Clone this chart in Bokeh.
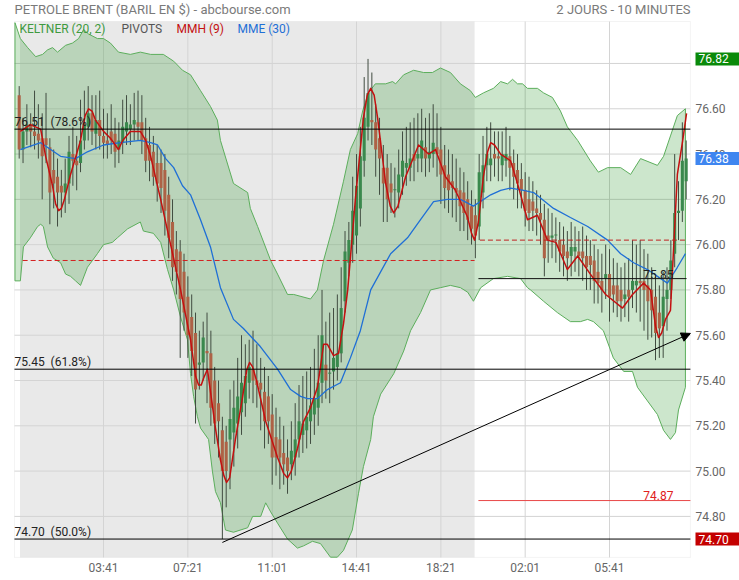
from bokeh.plotting import figure
from bokeh.models import (Range1d, FixedTicker, Label, Arrow, NormalHead, ColumnDataSource,
                          NumeralTickFormatter, BoxAnnotation, LinearAxis)
from bokeh.embed import file_html
from bokeh.resources import INLINE

# ---------------- data (10-minute candles, index based x axis) ----------------
opens = [76.66, 76.42, 76.50, 76.53, 76.50, 76.49, 76.47, 76.47, 76.43, 76.33,
         76.30, 76.26, 76.23, 76.27, 76.40, 76.37, 76.36, 76.46, 76.52, 76.58,
         76.49, 76.55, 76.48, 76.46, 76.50, 76.49, 76.42, 76.45, 76.50, 76.51,
         76.53, 76.54, 76.54, 76.47, 76.44, 76.41, 76.36, 76.36, 76.33, 76.22,
         76.10, 75.98, 75.97, 75.88, 75.77, 75.68, 75.61, 75.47, 75.48, 75.53,
         75.52, 75.40, 75.30, 75.18, 75.13, 75.14, 75.17, 75.21, 75.26, 75.30,
         75.39, 75.45, 75.40, 75.39, 75.35, 75.33, 75.25, 75.15, 75.14, 75.08,
         75.06, 75.03, 75.06, 75.14, 75.16, 75.18, 75.22, 75.25, 75.28, 75.39,
         75.47, 75.43, 75.44, 75.46, 75.52, 75.75, 75.92, 76.00, 76.04, 76.16,
         76.37, 76.52, 76.55, 76.54, 76.47, 76.34, 76.34, 76.27, 76.24, 76.23,
         76.30, 76.34, 76.34, 76.40, 76.38, 76.38, 76.43, 76.38, 76.40, 76.43,
         76.42, 76.35, 76.31, 76.28, 76.25, 76.24, 76.23, 76.20, 76.17, 76.13,
         76.08, 76.23, 76.35, 76.35, 76.40, 76.39, 76.35, 76.37, 76.39, 76.36,
         76.33, 76.29, 76.24, 76.20, 76.19, 76.16, 76.14, 76.11, 76.04, 76.03,
         76.04, 76.02, 76.00, 75.97, 75.95, 75.97, 75.97, 75.97, 75.95, 75.95,
         75.93, 75.88, 75.84, 75.85, 75.87, 75.82, 75.82, 75.80, 75.76, 75.80,
         75.80, 75.82, 75.84, 75.84, 75.82, 75.80, 75.77, 75.70, 75.64, 75.76,
         75.80, 75.96, 76.14, 76.15, 76.28]
highs = [76.70, 76.56, 76.62, 76.58, 76.68, 76.62, 76.58, 76.67, 76.47, 76.42,
         76.38, 76.33, 76.38, 76.48, 76.52, 76.48, 76.64, 76.68, 76.70, 76.66,
         76.66, 76.68, 76.60, 76.58, 76.62, 76.56, 76.54, 76.64, 76.66, 76.62,
         76.67, 76.68, 76.66, 76.56, 76.52, 76.48, 76.44, 76.42, 76.40, 76.30,
         76.20, 76.06, 76.02, 75.96, 75.86, 75.78, 75.70, 75.62, 75.66, 75.70,
         75.62, 75.46, 75.40, 75.24, 75.20, 75.36, 75.40, 75.50, 75.60, 75.56,
         75.58, 75.62, 75.56, 75.50, 75.46, 75.42, 75.34, 75.28, 75.24, 75.20,
         75.14, 75.22, 75.30, 75.38, 75.42, 75.44, 75.46, 75.54, 75.60, 75.80,
         75.66, 75.70, 75.72, 75.78, 75.90, 76.06, 76.10, 76.30, 76.40, 76.52,
         76.74, 76.82, 76.76, 76.62, 76.56, 76.44, 76.40, 76.36, 76.34, 76.42,
         76.50, 76.52, 76.54, 76.56, 76.58, 76.60, 76.56, 76.58, 76.62, 76.58,
         76.52, 76.44, 76.42, 76.40, 76.38, 76.34, 76.32, 76.28, 76.24, 76.20,
         76.40, 76.48, 76.52, 76.54, 76.50, 76.50, 76.50, 76.52, 76.48, 76.42,
         76.40, 76.36, 76.32, 76.30, 76.28, 76.24, 76.22, 76.18, 76.16, 76.14,
         76.12, 76.10, 76.08, 76.06, 76.10, 76.08, 76.06, 76.08, 76.04, 76.02,
         76.00, 75.98, 75.96, 76.00, 75.98, 75.94, 75.92, 75.90, 75.92, 75.94,
         76.02, 76.00, 76.02, 75.98, 75.96, 75.90, 75.86, 75.82, 75.88, 75.90,
         76.02, 76.40, 76.28, 76.54, 76.46]
lows = [76.38, 76.36, 76.44, 76.43, 76.42, 76.38, 76.20, 76.36, 76.09, 76.16,
        76.08, 76.12, 76.14, 76.18, 76.26, 76.24, 76.32, 76.42, 76.46, 76.44,
        76.42, 76.42, 76.38, 76.38, 76.40, 76.34, 76.36, 76.40, 76.44, 76.44,
        76.46, 76.46, 76.40, 76.32, 76.28, 76.26, 76.19, 76.14, 76.04, 75.94,
        75.84, 75.78, 75.50, 75.62, 75.50, 75.42, 75.21, 75.36, 75.40, 75.30,
        75.20, 75.12, 75.06, 74.70, 74.84, 74.92, 75.02, 75.10, 75.16, 75.24,
        75.32, 75.30, 75.28, 75.18, 75.10, 75.12, 74.94, 74.98, 74.92, 74.94,
        74.90, 74.96, 74.98, 75.06, 75.08, 75.10, 75.12, 75.16, 75.20, 75.30,
        75.32, 75.30, 75.36, 75.40, 75.48, 75.70, 75.86, 75.92, 75.96, 76.08,
        76.30, 76.46, 76.44, 76.30, 76.22, 76.10, 76.10, 76.14, 76.12, 76.16,
        76.22, 76.26, 76.28, 76.28, 76.32, 76.32, 76.30, 76.32, 76.34, 76.30,
        76.18, 76.16, 76.14, 76.12, 76.10, 76.06, 76.06, 76.02, 76.00, 75.94,
        76.02, 76.16, 76.28, 76.28, 76.30, 76.28, 76.28, 76.30, 76.24, 76.20,
        76.16, 76.16, 76.08, 76.06, 76.06, 76.04, 76.00, 75.86, 75.92, 75.94,
        75.92, 75.88, 75.86, 75.84, 75.86, 75.88, 75.86, 75.84, 75.80, 75.80,
        75.74, 75.74, 75.70, 75.76, 75.66, 75.70, 75.68, 75.66, 75.68, 75.66,
        75.72, 75.70, 75.66, 75.62, 75.58, 75.59, 75.49, 75.50, 75.50, 75.62,
        75.76, 75.90, 76.02, 76.10, 76.20]
closes = [76.42, 76.50, 76.53, 76.50, 76.48, 76.46, 76.39, 76.44, 76.23, 76.27,
          76.23, 76.23, 76.27, 76.41, 76.37, 76.35, 76.46, 76.53, 76.58, 76.50,
          76.55, 76.48, 76.45, 76.44, 76.46, 76.41, 76.46, 76.52, 76.54, 76.53,
          76.55, 76.52, 76.46, 76.37, 76.37, 76.30, 76.27, 76.25, 76.15, 76.03,
          75.90, 75.88, 75.76, 75.70, 75.60, 75.53, 75.36, 75.48, 75.59, 75.52,
          75.28, 75.21, 75.22, 75.00, 75.00, 75.23, 75.28, 75.33, 75.39, 75.42,
          75.46, 75.40, 75.38, 75.36, 75.22, 75.22, 75.06, 75.06, 75.06, 75.03,
          75.00, 75.09, 75.14, 75.22, 75.21, 75.24, 75.29, 75.32, 75.39, 75.60,
          75.40, 75.43, 75.50, 75.52, 75.72, 75.97, 76.02, 76.15, 76.26, 76.39,
          76.56, 76.67, 76.54, 76.42, 76.38, 76.27, 76.20, 76.23, 76.24, 76.31,
          76.37, 76.36, 76.38, 76.37, 76.40, 76.46, 76.38, 76.41, 76.45, 76.40,
          76.31, 76.25, 76.24, 76.25, 76.23, 76.17, 76.14, 76.11, 76.07, 76.04,
          76.32, 76.35, 76.40, 76.38, 76.38, 76.38, 76.40, 76.40, 76.34, 76.30,
          76.27, 76.24, 76.15, 76.14, 76.15, 76.14, 76.11, 75.94, 76.02, 76.04,
          76.04, 75.97, 75.95, 75.94, 75.99, 75.99, 75.95, 75.94, 75.90, 75.91,
          75.84, 75.83, 75.80, 75.87, 75.77, 75.78, 75.75, 75.75, 75.78, 75.77,
          75.84, 75.84, 75.83, 75.80, 75.75, 75.71, 75.61, 75.63, 75.77, 75.80,
          75.93, 76.14, 76.15, 76.37, 76.38]

# Keltner (20, 2) bands, read at candle positions
kelt_up_x = [-1.1, 0.3, 2.2, 4.3, 6.1, 7.4, 8.7, 10.0, 12.1, 13.9, 15.5, 16.8, 18.1, 20.4, 22.0,
             23.8, 25.9, 29.0, 31.6, 34.3, 37.6, 40.3, 42.6, 44.7, 47.3, 49.9, 51.7, 52.5, 55.9,
             59.6, 60.3, 62.2, 65.6, 67.4, 70.0, 71.6, 76.0, 77.8, 79.4, 82.0, 84.6, 86.4, 88.3,
             89.6, 91.1, 92.9, 95.6, 97.4, 98.2, 100.3, 102.9, 105.5, 107.8, 109.9, 112.5, 115.1,
             117.7, 119.0, 121.1, 123.7, 125.6, 127.4, 128.7, 130.0, 131.3, 132.6, 135.2, 136.8,
             139.1, 141.2, 143.0, 145.7, 149.0, 151.1, 153.5, 156.9, 159.5, 162.1, 166.5, 168.1,
             169.9, 171.7, 173.8]
kelt_up_y = [76.98, 76.91, 76.87, 76.83, 76.84, 76.86, 76.87, 76.85, 76.88, 76.89, 76.91, 76.95,
             76.93, 76.91, 76.91, 76.89, 76.85, 76.84, 76.85, 76.84, 76.84, 76.81, 76.77, 76.75,
             76.68, 76.61, 76.55, 76.46, 76.27, 76.23, 76.16, 76.08, 75.93, 75.87, 75.78, 75.78,
             75.76, 75.80, 75.93, 76.09, 76.28, 76.42, 76.49, 76.59, 76.67, 76.71, 76.71, 76.72,
             76.71, 76.75, 76.77, 76.76, 76.76, 76.78, 76.76, 76.71, 76.68, 76.65, 76.67, 76.69,
             76.72, 76.71, 76.73, 76.71, 76.71, 76.69, 76.69, 76.67, 76.65, 76.59, 76.52, 76.46,
             76.37, 76.32, 76.34, 76.34, 76.31, 76.38, 76.35, 76.39, 76.48, 76.57, 76.60]
kelt_lo_x = [-1.1, 0.3, 1.1, 2.9, 4.8, 5.6, 6.3, 7.4, 8.9, 10.8, 12.1, 13.4, 14.7, 16.0, 17.8,
             20.4, 22.0, 24.3, 25.6, 28.3, 31.6, 32.4, 35.0, 36.9, 38.7, 40.3, 42.1, 43.9, 44.7,
             45.5, 46.5, 47.3, 49.4, 50.4, 51.2, 52.5, 53.8, 55.9, 59.6, 60.9, 63.0, 64.3, 65.6,
             67.4, 70.0, 72.6, 74.2, 76.5, 78.6, 81.2, 83.0, 84.6, 86.9, 88.5, 89.8, 91.7, 92.4,
             94.3, 97.7, 100.3, 102.1, 104.7, 107.3, 109.9, 112.5, 115.1, 117.0, 118.5, 120.4,
             123.7, 127.4, 130.8, 132.6, 133.4, 136.8, 140.4, 143.8, 146.4, 148.3, 149.8, 152.4,
             155.0, 157.7, 160.0, 161.3, 163.9, 166.5, 168.1, 169.9, 171.2, 172.0, 173.8]
kelt_lo_y = [75.84, 75.84, 75.99, 76.03, 76.08, 76.09, 76.08, 75.99, 75.94, 75.92, 75.87, 75.86,
             75.84, 75.82, 75.90, 75.96, 76.00, 76.01, 76.03, 76.07, 76.10, 76.06, 76.05, 76.01,
             75.89, 75.80, 75.68, 75.58, 75.43, 75.33, 75.24, 75.19, 75.14, 75.00, 74.91, 74.86,
             74.74, 74.73, 74.75, 74.80, 74.80, 74.86, 74.82, 74.77, 74.70, 74.66, 74.67, 74.69,
             74.68, 74.62, 74.62, 74.65, 74.74, 74.90, 75.02, 75.14, 75.24, 75.34, 75.43, 75.53,
             75.62, 75.70, 75.80, 75.81, 75.82, 75.81, 75.79, 75.75, 75.81, 75.85, 75.86, 75.85,
             75.81, 75.80, 75.75, 75.70, 75.66, 75.66, 75.67, 75.66, 75.62, 75.50, 75.44, 75.44,
             75.37, 75.31, 75.25, 75.18, 75.14, 75.17, 75.27, 75.37]

# MMH (9) - Hull moving average
mmh_x = [0.3, 2.9, 5.6, 6.9, 8.7, 9.5, 10.3, 11.0, 11.8, 13.4, 16.0, 17.2, 18.1, 19.0, 19.9,
         22.0, 23.8, 25.9, 27.0, 29.0, 31.6, 33.0, 34.3, 36.9, 39.5, 42.1, 44.7, 46.0, 46.8,
         47.5, 48.1, 49.1, 51.2, 52.5, 53.4, 54.1, 54.9, 56.4, 58.3, 59.4, 60.1, 60.9, 61.9,
         64.3, 67.4, 69.0, 70.0, 71.0, 72.6, 74.2, 76.0, 77.8, 78.6, 79.4, 80.4, 82.0, 83.3,
         84.6, 85.7, 87.7, 89.8, 90.8, 91.7, 92.6, 93.5, 95.6, 96.8, 97.7, 98.8, 100.8, 104.2,
         106.8, 108.6, 111.2, 113.8, 117.0, 118.0, 118.8, 119.8, 121.1, 122.2, 123.0, 124.0,
         125.6, 128.2, 130.0, 132.6, 135.2, 137.8, 140.0, 143.0, 145.7, 149.0, 153.0, 157.4,
         160.0, 162.9, 164.7, 166.0, 166.8, 167.6, 168.6, 169.9, 171.7, 173.1, 174.1]
mmh_y = [76.50, 76.53, 76.51, 76.39, 76.26, 76.18, 76.15, 76.16, 76.20, 76.31, 76.46, 76.57,
         76.60, 76.59, 76.55, 76.50, 76.47, 76.42, 76.46, 76.50, 76.50, 76.46, 76.39, 76.20,
         76.00, 75.80, 75.58, 75.42, 75.38, 75.38, 75.41, 75.45, 75.19, 75.05, 74.98, 74.95,
         74.97, 75.14, 75.33, 75.45, 75.48, 75.46, 75.40, 75.22, 75.06, 74.99, 74.97, 75.00,
         75.10, 75.22, 75.28, 75.37, 75.46, 75.56, 75.56, 75.51, 75.52, 75.65, 75.80, 76.20,
         76.56, 76.66, 76.69, 76.66, 76.56, 76.27, 76.17, 76.14, 76.17, 76.30, 76.44, 76.40,
         76.42, 76.30, 76.24, 76.12, 76.05, 76.02, 76.10, 76.30, 76.41, 76.45, 76.44, 76.40,
         76.37, 76.27, 76.11, 76.13, 76.02, 76.01, 75.89, 75.95, 75.87, 75.78, 75.72, 75.78,
         75.83, 75.80, 75.64, 75.59, 75.61, 75.67, 75.71, 76.31, 76.46, 76.58]

# MME (30) - exponential moving average
mme_x = [0.3, 5.6, 8.2, 10.8, 14.7, 17.8, 22.0, 26.4, 31.6, 34.3, 36.1, 38.2, 40.3, 42.6, 44.7,
         47.3, 49.9, 52.5, 55.9, 58.5, 62.9, 67.4, 70.8, 73.4, 75.2, 77.8, 80.4, 83.8, 86.4, 89.0,
         91.7, 96.9, 101.3, 104.7, 108.1, 111.7, 115.1, 118.5, 123.0, 125.6, 128.2, 131.6, 134.2,
         139.4, 143.8, 148.3, 153.5, 156.9, 160.3, 163.9, 169.1, 171.7, 173.8]
mme_y = [76.42, 76.45, 76.42, 76.39, 76.38, 76.41, 76.44, 76.45, 76.46, 76.45, 76.44, 76.38,
         76.34, 76.26, 76.22, 76.11, 75.99, 75.81, 75.67, 75.63, 75.55, 75.45, 75.36, 75.33,
         75.32, 75.32, 75.36, 75.39, 75.50, 75.62, 75.80, 75.96, 76.03, 76.11, 76.19, 76.20,
         76.20, 76.17, 76.22, 76.24, 76.25, 76.24, 76.23, 76.16, 76.12, 76.08, 76.02, 75.96,
         75.92, 75.89, 75.83, 75.90, 75.96]

# Fibonacci pivots
pivot_levels = [76.51, 75.45, 74.70]
pivot_labels = ["76.51\u00a0 (78.6%)", "75.45\u00a0 (61.8%)", "74.70\u00a0 (50.0%)"]
prev_pivot = 75.93          # previous session pivot (dashed)
day_pivot = 76.02           # current session pivot (dashed)
day_support = 75.85
day_low_level = 74.87
# trend line (from the 74.70 low)
trend_x = [53.0, 175.1]
trend_y = [74.685, 75.608]
# right-hand value tags
tag_values = [76.82, 76.38, 74.70]
tag_colors = ["#0a8a0a", "#3f86f0", "#c40000"]

tick_idx = [22, 44, 66, 88, 110, 132, 154]
tick_labels = ["03:41", "07:21", "11:01", "14:41", "18:21", "02:01", "05:41"]
price_ticks = [74.8, 75.0, 75.2, 75.4, 75.6, 75.8, 76.0, 76.2, 76.4, 76.6]
grid_prices = [74.8, 75.0, 75.2, 75.4, 75.6, 75.8, 76.0, 76.2, 76.4, 76.6, 76.8]
session_split = 118.8

# ---------------- figure ----------------
FONT = "Roboto"
# plot box (candle index / price) inside the canvas-wide frame
PX0, PX1 = -1.23, 175.1
PY0, PY1 = 74.619, 76.985

p = figure(width=739, height=580, output_backend="svg", toolbar_location=None,
           x_range=Range1d(-4.878, 187.91), y_range=Range1d(74.517, 77.078),
           x_axis_location=None, y_axis_location=None, title=None, min_border=0)
p.outline_line_color = None
p.background_fill_color = "white"
p.border_fill_color = "white"
p.grid.visible = False

# axes drawn at the edges of the plot box
xa = LinearAxis(fixed_location=PY0, ticker=FixedTicker(ticks=tick_idx))
xa.major_label_overrides = {t: l for t, l in zip(tick_idx, tick_labels)}
xa.major_label_standoff = 4
ya = LinearAxis(fixed_location=PX1, ticker=FixedTicker(ticks=price_ticks),
                formatter=NumeralTickFormatter(format="0.00"))
ya.major_label_standoff = 5
for ax in (xa, ya):
    ax.axis_line_color = None
    ax.major_tick_line_color = None
    ax.minor_tick_line_color = None
    ax.major_tick_out = 0
    ax.major_tick_in = 0
    ax.major_label_text_font = FONT
    ax.major_label_text_font_size = "12px"
    ax.major_label_text_color = "#666666"
p.add_layout(xa, "below")
p.add_layout(ya, "right")

# previous session shading
p.add_layout(BoxAnnotation(left=0.2, right=session_split, bottom=PY0, top=PY1,
                           fill_color="#e9e9e9", fill_alpha=1.0, line_color=None, level="image"))

# grid lines limited to the plot box
p.segment(x0=tick_idx, y0=[PY0] * len(tick_idx), x1=tick_idx, y1=[PY1] * len(tick_idx),
          line_color="#d4d4d4", line_width=1)
p.segment(x0=[PX0] * len(grid_prices), y0=grid_prices, x1=[PX1] * len(grid_prices), y1=grid_prices,
          line_color="#d4d4d4", line_width=1)

# Keltner band
p.patch(kelt_up_x + kelt_lo_x[::-1], kelt_up_y + kelt_lo_y[::-1],
        fill_color="#008000", fill_alpha=0.2, line_color="#5cae5c", line_width=1)

# candles
idx = list(range(len(closes)))
tops, bots, cols = [], [], []
for o, c in zip(opens, closes):
    t, b = max(o, c), min(o, c)
    if t - b < 0.005:
        t = b + 0.005
    tops.append(t)
    bots.append(b)
    cols.append("#3a894d" if c >= o else "#ad6246")
src = ColumnDataSource(dict(x=idx, h=highs, l=lows, t=tops, b=bots, c=cols))
p.segment(x0="x", y0="l", x1="x", y1="h", source=src, line_color="#404c40", line_width=1)
p.vbar(x="x", width=0.8, top="t", bottom="b", fill_color="c", line_color=None, source=src)

# moving averages
p.line(mme_x, mme_y, line_color="#1f6fd6", line_width=1.3)
p.line(mmh_x, mmh_y, line_color="#c41010", line_width=1.5, line_join="round")

# session levels
p.segment(x0=[0.9], y0=[prev_pivot], x1=[session_split], y1=[prev_pivot],
          line_color="#d42020", line_width=1, line_dash="5 3")
p.segment(x0=[120.2], y0=[day_pivot], x1=[174.0], y1=[day_pivot],
          line_color="#c02020", line_width=1, line_dash="5 3")
p.segment(x0=[119.8], y0=[day_support], x1=[174.1], y1=[day_support],
          line_color="#111111", line_width=1)
p.segment(x0=[119.8], y0=[day_low_level], x1=[PX1], y1=[day_low_level],
          line_color="#e84848", line_width=1)

# Fibonacci pivot lines
p.segment(x0=[PX0] * 3, y0=pivot_levels, x1=[PX1] * 3, y1=pivot_levels,
          line_color="#000000", line_width=1)
for lv, lab in zip(pivot_levels, pivot_labels):
    p.add_layout(Label(x=14, y=lv, x_units="screen", text=lab, text_font=FONT,
                       text_font_size="12px", text_color="#222222",
                       text_baseline="bottom", text_align="left"))

p.add_layout(Label(x=673, y=day_support, x_units="screen", text=f"{day_support:.2f}",
                   text_font=FONT, text_font_size="12px", text_color="#222222",
                   text_baseline="bottom", text_align="right"))
p.add_layout(Label(x=673, y=day_low_level, x_units="screen", text=f"{day_low_level:.2f}",
                   text_font=FONT, text_font_size="12px", text_color="#e02020",
                   text_baseline="bottom", text_align="right", y_offset=1))

# trend arrow
p.add_layout(Arrow(end=NormalHead(size=9, fill_color="black", line_color="black"),
                   x_start=trend_x[0], y_start=trend_y[0], x_end=trend_x[1], y_end=trend_y[1],
                   line_color="black", line_width=1))

# plot box outline
p.add_layout(BoxAnnotation(left=PX0, right=PX1, bottom=PY0, top=PY1, fill_alpha=0,
                           line_color="#d6d6d6", line_width=1, level="underlay"))

# right value tags
for v, col in zip(tag_values, tag_colors):
    p.add_layout(Label(x=695, y=v, x_units="screen", text=f"{v:.2f}", text_font=FONT,
                       text_font_size="12px", text_color="white", text_align="left",
                       text_baseline="middle", background_fill_color=col,
                       padding=dict(left=3, right=16, top=2, bottom=2)))

# title texts
p.add_layout(Label(x=14, y=PY1, x_units="screen", y_offset=12,
                   text="PETROLE BRENT (BARIL EN $) - abcbourse.com",
                   text_font=FONT, text_font_size="13px", text_color="#7a7a7a",
                   text_baseline="middle", text_align="left"))
p.add_layout(Label(x=690, y=PY1, x_units="screen", y_offset=12, text="2 JOURS - 10 MINUTES",
                   text_font=FONT, text_font_size="13px", text_color="#7a7a7a",
                   text_baseline="middle", text_align="right"))

# indicator legend
legend_items = [("KELTNER (20, 2)", "#3f9a3f", 19), ("PIVOTS", "#555555", 121),
                ("MMH (9)", "#c41010", 176), ("MME (30)", "#1f6fd6", 237)]
for txt, col, xo in legend_items:
    p.add_layout(Label(x=xo, y=PY1, x_units="screen", y_offset=-7, text=txt, text_font=FONT,
                       text_font_size="12px", text_color=col, text_baseline="middle",
                       text_align="left"))

open("out.html", "w").write(file_html(p, INLINE))
